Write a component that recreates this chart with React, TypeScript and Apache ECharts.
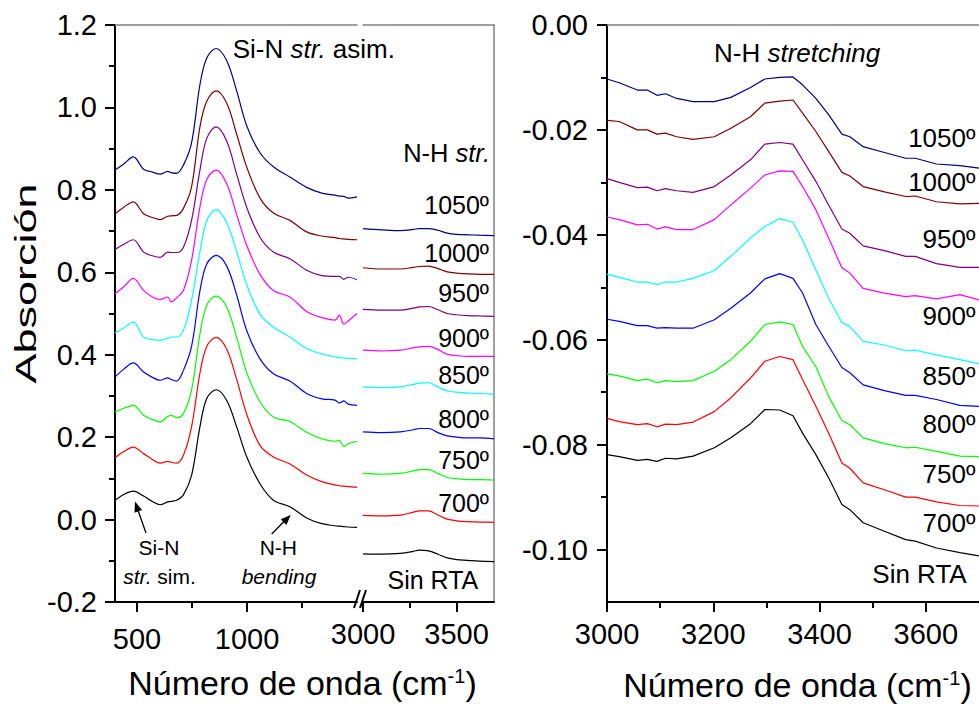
import React, { useEffect, useRef } from 'react';
import * as echarts from 'echarts';

const FONT = '"Liberation Sans", Arial, Helvetica, sans-serif';

// ---------- data ----------
const seriesNames = ['Sin RTA', '700º', '750º', '800º', '850º', '900º', '950º', '1000º', '1050º'];
const seriesColors = ['#000000', '#ff0000', '#00ff00', '#0000ff', '#00ffff', '#ff00ff', '#800080', '#800000', '#000080'];

// left panel, low wavenumber segment (cm-1)
const lowWavenumbers = [400, 440, 483, 530, 570, 605, 640, 655, 680, 711, 748, 786, 817, 860, 908, 953, 999, 1059, 1120, 1195, 1271, 1340, 1400, 1420, 1440, 1460, 1500];
const lowSinRTA = [0.047, 0.061, 0.069, 0.057, 0.044, 0.036, 0.043, 0.044, 0.047, 0.060, 0.107, 0.225, 0.294, 0.315, 0.289, 0.225, 0.152, 0.087, 0.047, 0.031, 0.004, -0.010, -0.015, -0.016, -0.017, -0.018, -0.019];
const low700 = [0.150, 0.165, 0.176, 0.160, 0.146, 0.137, 0.141, 0.139, 0.137, 0.156, 0.225, 0.355, 0.420, 0.442, 0.413, 0.340, 0.255, 0.180, 0.152, 0.135, 0.108, 0.092, 0.084, 0.082, 0.081, 0.080, 0.078];
const low750 = [0.261, 0.270, 0.277, 0.253, 0.243, 0.237, 0.250, 0.253, 0.247, 0.257, 0.314, 0.450, 0.520, 0.542, 0.515, 0.442, 0.356, 0.286, 0.249, 0.238, 0.212, 0.196, 0.190, 0.192, 0.177, 0.184, 0.190];
const low800 = [0.346, 0.365, 0.380, 0.358, 0.345, 0.338, 0.344, 0.340, 0.336, 0.362, 0.420, 0.555, 0.620, 0.641, 0.615, 0.545, 0.458, 0.390, 0.354, 0.336, 0.306, 0.293, 0.290, 0.283, 0.288, 0.280, 0.277];
const low850 = [0.453, 0.465, 0.479, 0.443, 0.437, 0.435, 0.440, 0.443, 0.443, 0.459, 0.532, 0.650, 0.725, 0.752, 0.720, 0.650, 0.570, 0.498, 0.467, 0.443, 0.415, 0.402, 0.395, 0.393, 0.392, 0.391, 0.390];
const low900 = [0.548, 0.565, 0.585, 0.556, 0.540, 0.534, 0.540, 0.528, 0.538, 0.556, 0.629, 0.758, 0.825, 0.848, 0.815, 0.740, 0.665, 0.595, 0.556, 0.540, 0.505, 0.490, 0.484, 0.496, 0.474, 0.482, 0.500];
const low950 = [0.655, 0.668, 0.679, 0.649, 0.640, 0.636, 0.649, 0.648, 0.648, 0.661, 0.726, 0.848, 0.925, 0.953, 0.918, 0.838, 0.757, 0.685, 0.649, 0.633, 0.605, 0.592, 0.590, 0.590, 0.583, 0.588, 0.582];
const low1000 = [0.742, 0.758, 0.771, 0.742, 0.733, 0.728, 0.736, 0.737, 0.738, 0.755, 0.807, 0.953, 1.015, 1.040, 1.010, 0.935, 0.855, 0.780, 0.744, 0.726, 0.698, 0.688, 0.684, 0.682, 0.681, 0.680, 0.679];
const low1050 = [0.848, 0.863, 0.880, 0.850, 0.843, 0.838, 0.845, 0.842, 0.840, 0.860, 0.914, 1.055, 1.120, 1.143, 1.113, 1.040, 0.955, 0.890, 0.856, 0.831, 0.806, 0.792, 0.787, 0.785, 0.784, 0.780, 0.783];

// left panel, high wavenumber segment (stacked)
const highWavenumbersLeft = [3000, 3100, 3200, 3270, 3300, 3350, 3400, 3450, 3500, 3560, 3620, 3700];
const leftHighSinRTA = [-0.083, -0.084, -0.082, -0.077, -0.074, -0.076, -0.084, -0.093, -0.097, -0.099, -0.101, -0.102];
const leftHigh700 = [0.010, 0.009, 0.011, 0.018, 0.021, 0.021, 0.011, 0.001, -0.003, -0.005, -0.006, -0.007];
const leftHigh750 = [0.112, 0.110, 0.112, 0.118, 0.121, 0.121, 0.112, 0.102, 0.099, 0.097, 0.097, 0.096];
const leftHigh800 = [0.213, 0.211, 0.213, 0.218, 0.221, 0.221, 0.211, 0.203, 0.200, 0.198, 0.198, 0.196];
const leftHigh850 = [0.322, 0.320, 0.322, 0.328, 0.331, 0.332, 0.322, 0.312, 0.309, 0.307, 0.306, 0.304];
const leftHigh900 = [0.411, 0.409, 0.411, 0.417, 0.419, 0.420, 0.413, 0.401, 0.398, 0.396, 0.396, 0.396];
const leftHigh950 = [0.510, 0.508, 0.508, 0.513, 0.516, 0.517, 0.509, 0.500, 0.497, 0.495, 0.494, 0.493];
const leftHigh1000 = [0.611, 0.608, 0.608, 0.612, 0.614, 0.615, 0.609, 0.601, 0.598, 0.596, 0.595, 0.595];
const leftHigh1050 = [0.706, 0.703, 0.701, 0.704, 0.706, 0.706, 0.702, 0.695, 0.692, 0.691, 0.690, 0.689];

// right panel (N-H stretching)
const highWavenumbers = [3000, 3023, 3057, 3076, 3094, 3110, 3131, 3162, 3202, 3233, 3270, 3297, 3325, 3350, 3368, 3393, 3417, 3442, 3457, 3482, 3522, 3562, 3580, 3620, 3664, 3700];
const nhSinRTA = [-0.0819, -0.0823, -0.0830, -0.0828, -0.0832, -0.0826, -0.0827, -0.0822, -0.0806, -0.0787, -0.0760, -0.0733, -0.0734, -0.0745, -0.0778, -0.0819, -0.0863, -0.0914, -0.0924, -0.0949, -0.0965, -0.0981, -0.0984, -0.0997, -0.1006, -0.1012];
const nh700 = [-0.0750, -0.0756, -0.0762, -0.0760, -0.0766, -0.0761, -0.0762, -0.0757, -0.0737, -0.0711, -0.0673, -0.0641, -0.0632, -0.0638, -0.0676, -0.0727, -0.0778, -0.0835, -0.0845, -0.0873, -0.0886, -0.0900, -0.0900, -0.0909, -0.0916, -0.0917];
const nh750 = [-0.0665, -0.0669, -0.0678, -0.0675, -0.0682, -0.0678, -0.0680, -0.0678, -0.0660, -0.0638, -0.0603, -0.0571, -0.0566, -0.0571, -0.0613, -0.0651, -0.0708, -0.0754, -0.0762, -0.0787, -0.0798, -0.0806, -0.0805, -0.0813, -0.0822, -0.0823];
const nh800 = [-0.0561, -0.0565, -0.0573, -0.0573, -0.0578, -0.0577, -0.0578, -0.0578, -0.0562, -0.0540, -0.0511, -0.0484, -0.0474, -0.0483, -0.0511, -0.0571, -0.0612, -0.0653, -0.0663, -0.0686, -0.0697, -0.0706, -0.0706, -0.0714, -0.0725, -0.0727];
const nh850 = [-0.0475, -0.0481, -0.0490, -0.0490, -0.0495, -0.0490, -0.0490, -0.0483, -0.0468, -0.0441, -0.0406, -0.0384, -0.0369, -0.0376, -0.0410, -0.0467, -0.0521, -0.0567, -0.0575, -0.0603, -0.0610, -0.0621, -0.0620, -0.0629, -0.0638, -0.0646];
const nh900 = [-0.0366, -0.0371, -0.0381, -0.0380, -0.0389, -0.0385, -0.0390, -0.0390, -0.0371, -0.0343, -0.0311, -0.0286, -0.0278, -0.0279, -0.0308, -0.0352, -0.0406, -0.0463, -0.0473, -0.0502, -0.0511, -0.0518, -0.0516, -0.0522, -0.0514, -0.0524];
const nh950 = [-0.0293, -0.0300, -0.0310, -0.0309, -0.0316, -0.0312, -0.0316, -0.0319, -0.0308, -0.0286, -0.0257, -0.0227, -0.0224, -0.0227, -0.0257, -0.0298, -0.0343, -0.0389, -0.0397, -0.0421, -0.0430, -0.0441, -0.0441, -0.0455, -0.0462, -0.0462];
const nh1000 = [-0.0182, -0.0184, -0.0200, -0.0200, -0.0208, -0.0206, -0.0213, -0.0218, -0.0213, -0.0197, -0.0175, -0.0149, -0.0145, -0.0143, -0.0168, -0.0203, -0.0241, -0.0281, -0.0288, -0.0308, -0.0318, -0.0327, -0.0326, -0.0337, -0.0341, -0.0340];
const nh1050 = [-0.0103, -0.0110, -0.0124, -0.0124, -0.0134, -0.0131, -0.0140, -0.0146, -0.0146, -0.0138, -0.0119, -0.0103, -0.0100, -0.0099, -0.0114, -0.0140, -0.0171, -0.0208, -0.0213, -0.0232, -0.0243, -0.0254, -0.0254, -0.0265, -0.0268, -0.0273];

// ticks
const lowMajorTicks = [500, 1000];
const lowMinorTicks = [750, 1250];
const leftHighMajorTicks = [3000, 3500];
const leftHighMinorTicks = [3250];
const rightMajorTicks = [3000, 3200, 3400, 3600];
const rightMinorTicks = [3100, 3300, 3500];
const rightYMajorTicks = [-0.10, -0.08, -0.06, -0.04, -0.02, 0];
const rightYMinorTicks = [-0.09, -0.07, -0.05, -0.03, -0.01];

const lowSeries = [lowSinRTA, low700, low750, low800, low850, low900, low950, low1000, low1050];
const leftHighSeries = [leftHighSinRTA, leftHigh700, leftHigh750, leftHigh800, leftHigh850, leftHigh900, leftHigh950, leftHigh1000, leftHigh1050];
const nhSeries = [nhSinRTA, nh700, nh750, nh800, nh850, nh900, nh950, nh1000, nh1050];

// ---------- layout ----------
const GRID_TOP = 25;
const GRID_H = 577;
const TICK_FS = 29;

const leftLabelY = [579.6, 503, 459.6, 418.6, 374.6, 338, 293, 253, 204.6];
const rightLabelY = [574.3, 522.7, 473.7, 423.7, 376, 316, 239.3, 182, 137.7];

const rich = (fs: number) => ({
  n: { fontSize: fs, fontFamily: FONT, fill: '#000', color: '#000', verticalAlign: 'bottom' },
  i: { fontSize: fs, fontFamily: FONT, fill: '#000', color: '#000', fontStyle: 'italic', verticalAlign: 'bottom' },
  s: { fontSize: Math.round(fs * 0.6), fontFamily: FONT, fill: '#000', color: '#000', verticalAlign: 'top' },
});

const txt = (x: number, y: number, text: string, fs: number, align: string, extra: any = {}) => ({
  type: 'text',
  x,
  y,
  z: 50,
  ...extra,
  style: {
    text,
    fontSize: fs,
    fontFamily: FONT,
    fill: '#000',
    align,
    verticalAlign: 'middle',
    rich: rich(fs),
  },
});

const gline = (x1: number, y1: number, x2: number, y2: number, w = 1.5) => ({
  type: 'line',
  z: 60,
  shape: { x1, y1, x2, y2 },
  style: { stroke: '#000', lineWidth: w },
});

const tri = (pts: number[][]) => ({
  type: 'polygon',
  z: 60,
  shape: { points: pts },
  style: { fill: '#000' },
});

function mkLine(name: string, color: string, xs: number[], ys: number[], xi: number, yi: number, smooth: any) {
  return {
    type: 'line',
    name,
    xAxisIndex: xi,
    yAxisIndex: yi,
    data: xs.map((x, i) => [x, ys[i]]),
    showSymbol: false,
    symbol: 'none',
    smooth,
    silent: true,
    lineStyle: { color, width: 1.2 },
    itemStyle: { color },
  };
}

const blackLine = { show: true, onZero: false, lineStyle: { color: '#000', width: 2 } };
const grayLine = { show: true, onZero: false, lineStyle: { color: '#808080', width: 1.5 } };
const labelStyle = { color: '#000', fontSize: TICK_FS, fontFamily: FONT };
const plain = (v: number) => String(v);

function buildOption() {
  const series: any[] = [];
  seriesNames.forEach((n, k) => {
    series.push(mkLine(n, seriesColors[k], lowWavenumbers, lowSeries[k], 0, 0, 0.35));
    series.push(mkLine(n, seriesColors[k], highWavenumbersLeft, leftHighSeries[k], 3, 1, 0.35));
    series.push(mkLine(n, seriesColors[k], highWavenumbers, nhSeries[k], 6, 2, false));
  });

  const elements: any[] = [
    // axis titles
    txt(25.6, 283.5, 'Absorción', 30, 'center', { rotation: Math.PI / 2, scaleX: 1.5 }),
    txt(302.5, 683.2, '{n|Número de onda (cm}{s|-1}{n|)}', 34, 'center'),
    txt(797.5, 684.9, '{n|Número de onda (cm}{s|-1}{n|)}', 34, 'center'),
    // left panel annotations
    txt(232.7, 49, '{n|Si-N }{i|str.}{n| asim.}', 26, 'left'),
    txt(490, 153, '{n|N-H }{i|str.}', 25.5, 'right'),
    txt(159, 547.7, 'Si-N', 21, 'center'),
    txt(159.5, 576, '{i|str.}{n| sim.}', 21, 'center'),
    txt(278.3, 547.7, 'N-H', 21, 'center'),
    txt(279, 576, '{i|bending}', 21, 'center'),
    // arrows
    gline(146, 533, 137.5, 509, 1.3),
    tri([[135, 501.5], [142.1, 510.1], [134.5, 512.7]]),
    gline(271.7, 534, 285, 520.5, 1.3),
    tri([[290.7, 515], [286.4, 524.9], [280.8, 519.3]]),
    // axis break marks
    gline(354, 608, 360, 590, 2),
    gline(360, 608, 366, 590, 2),
    // right panel title
    txt(714, 52.7, '{n|N-H }{i|stretching}', 26, 'left'),
  ];
  seriesNames.forEach((n, k) => {
    elements.push(txt(k === 0 ? 478.3 : 489, leftLabelY[k], n, 25, 'right'));
    elements.push(txt(k === 0 ? 966.7 : 975.5, rightLabelY[k], n, 26, 'right'));
  });

  return {
    animation: false,
    backgroundColor: '#ffffff',
    textStyle: { fontFamily: FONT },
    grid: [
      { left: 115, top: GRID_TOP, width: 242, height: GRID_H },
      { left: 363, top: GRID_TOP, width: 131, height: GRID_H },
      { left: 607, top: GRID_TOP, width: 379, height: GRID_H },
    ],
    xAxis: [
      // 0: low segment
      {
        type: 'value', gridIndex: 0, position: 'bottom', min: 400, max: 1500,
        axisLine: blackLine,
        axisTick: { show: true, length: 10, customValues: lowMajorTicks, lineStyle: { color: '#000', width: 2 } },
        axisLabel: { ...labelStyle, margin: 22, customValues: lowMajorTicks, formatter: plain },
        splitLine: { show: false },
      },
      // 1: low segment minor ticks
      {
        type: 'value', gridIndex: 0, position: 'bottom', min: 400, max: 1500,
        axisLine: { show: false, onZero: false },
        axisTick: { show: true, length: 6, customValues: lowMinorTicks, lineStyle: { color: '#000', width: 2 } },
        axisLabel: { show: false },
        splitLine: { show: false },
      },
      // 2: low segment top border
      {
        type: 'value', gridIndex: 0, position: 'top', min: 400, max: 1500,
        axisLine: grayLine, axisTick: { show: false }, axisLabel: { show: false }, splitLine: { show: false },
      },
      // 3: left high segment
      {
        type: 'value', gridIndex: 1, position: 'bottom', min: 3000, max: 3700,
        axisLine: blackLine,
        axisTick: { show: true, length: 10, customValues: leftHighMajorTicks, lineStyle: { color: '#000', width: 2 } },
        axisLabel: { ...labelStyle, margin: 17, customValues: leftHighMajorTicks, formatter: plain },
        splitLine: { show: false },
      },
      // 4: minor
      {
        type: 'value', gridIndex: 1, position: 'bottom', min: 3000, max: 3700,
        axisLine: { show: false, onZero: false },
        axisTick: { show: true, length: 6, customValues: leftHighMinorTicks, lineStyle: { color: '#000', width: 2 } },
        axisLabel: { show: false },
        splitLine: { show: false },
      },
      // 5: top border
      {
        type: 'value', gridIndex: 1, position: 'top', min: 3000, max: 3700,
        axisLine: grayLine, axisTick: { show: false }, axisLabel: { show: false }, splitLine: { show: false },
      },
      // 6: right panel
      {
        type: 'value', gridIndex: 2, position: 'bottom', min: 3000, max: 3700,
        axisLine: blackLine,
        axisTick: { show: true, length: 10, customValues: rightMajorTicks, lineStyle: { color: '#000', width: 2 } },
        axisLabel: { ...labelStyle, margin: 17, customValues: rightMajorTicks, formatter: plain },
        splitLine: { show: false },
      },
      // 7: right minor
      {
        type: 'value', gridIndex: 2, position: 'bottom', min: 3000, max: 3700,
        axisLine: { show: false, onZero: false },
        axisTick: { show: true, length: 6, customValues: rightMinorTicks, lineStyle: { color: '#000', width: 2 } },
        axisLabel: { show: false },
        splitLine: { show: false },
      },
      // 8: right top border
      {
        type: 'value', gridIndex: 2, position: 'top', min: 3000, max: 3700,
        axisLine: grayLine, axisTick: { show: false }, axisLabel: { show: false }, splitLine: { show: false },
      },
    ],
    yAxis: [
      // 0: left absorbance
      {
        type: 'value', gridIndex: 0, position: 'left', min: -0.2, max: 1.2, interval: 0.2,
        axisLine: blackLine,
        axisTick: { show: true, length: 10, lineStyle: { color: '#000', width: 2 } },
        minorTick: { show: true, splitNumber: 2, length: 6, lineStyle: { color: '#000', width: 2 } },
        axisLabel: { ...labelStyle, margin: 18, formatter: (v: number) => v.toFixed(1) },
        splitLine: { show: false },
        minorSplitLine: { show: false },
      },
      // 1: left high segment, right border
      {
        type: 'value', gridIndex: 1, position: 'right', min: -0.2, max: 1.2,
        axisLine: grayLine, axisTick: { show: false }, axisLabel: { show: false }, splitLine: { show: false },
      },
      // 2: right panel
      {
        type: 'value', gridIndex: 2, position: 'left', min: -0.11, max: 0,
        axisLine: blackLine,
        axisTick: { show: true, length: 10, customValues: rightYMajorTicks, lineStyle: { color: '#000', width: 2 } },
        axisLabel: { ...labelStyle, margin: 19, customValues: rightYMajorTicks, formatter: (v: number) => v.toFixed(2) },
        splitLine: { show: false },
      },
      // 3: right panel minor ticks
      {
        type: 'value', gridIndex: 2, position: 'left', min: -0.11, max: 0,
        axisLine: { show: false, onZero: false },
        axisTick: { show: true, length: 6, customValues: rightYMinorTicks, lineStyle: { color: '#000', width: 2 } },
        axisLabel: { show: false },
        splitLine: { show: false },
      },
    ],
    series,
    graphic: { elements },
  };
}

export default function App() {
  const ref = useRef<HTMLDivElement>(null);
  useEffect(() => {
    if (!ref.current) return;
    const chart = echarts.init(ref.current, undefined, { renderer: 'svg' });
    chart.setOption(buildOption() as any);
    return () => chart.dispose();
  }, []);
  return (
    <div
      ref={ref}
      style={{ position: 'fixed', left: 0, top: 0, width: 979, height: 704, background: '#fff' }}
    />
  );
}
